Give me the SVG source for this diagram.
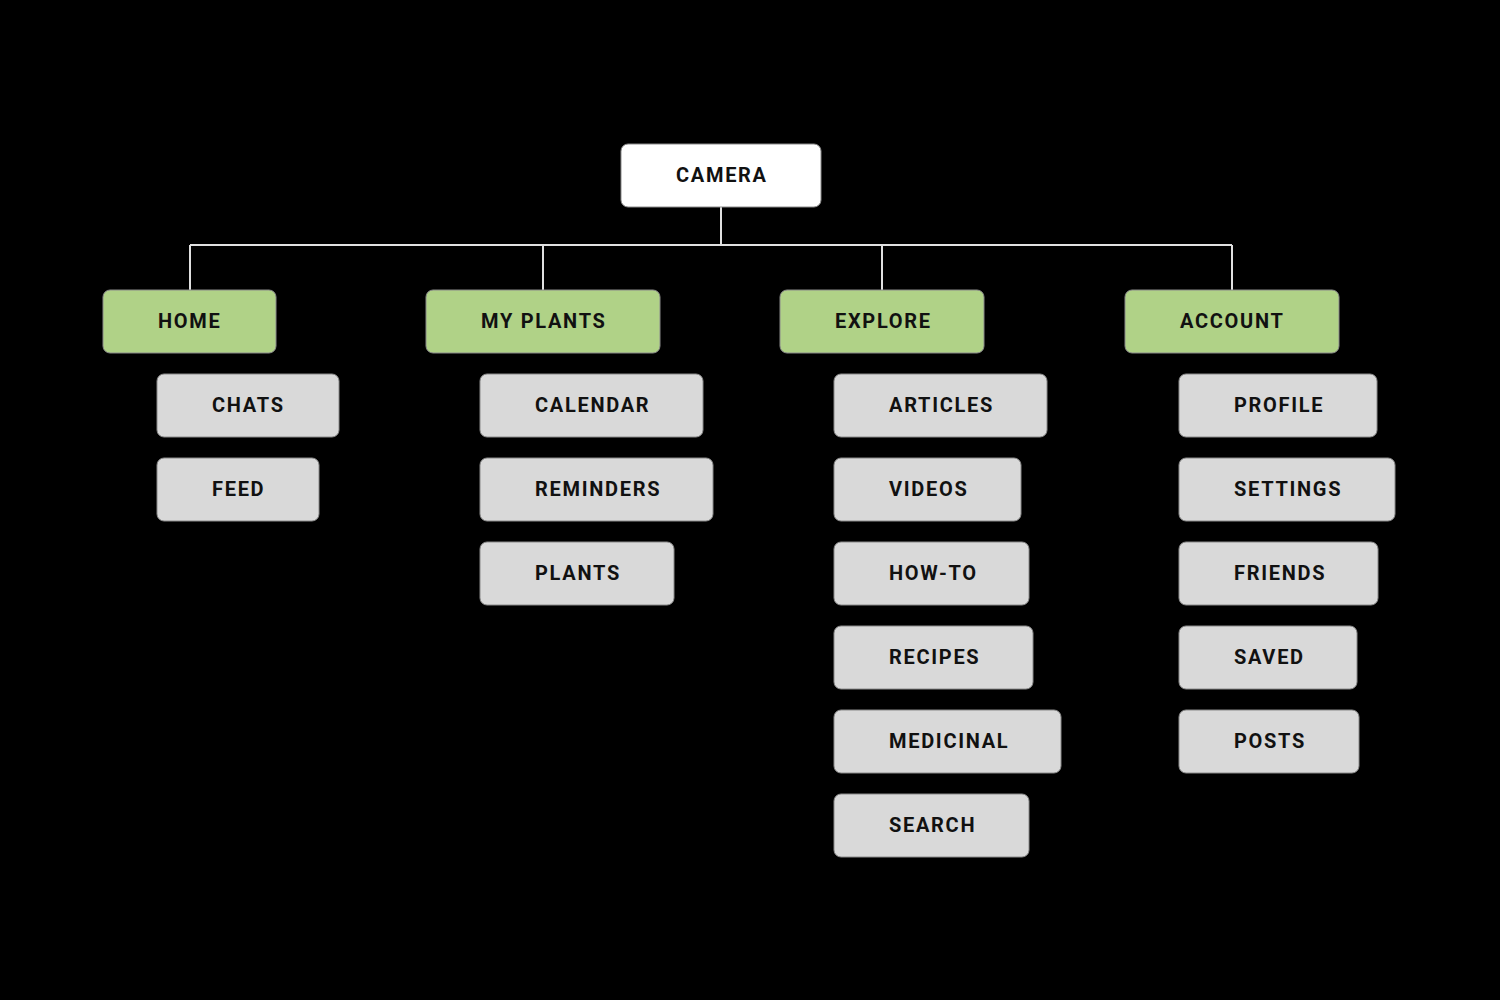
<svg xmlns="http://www.w3.org/2000/svg" width="1500" height="1000" viewBox="0 0 1500 1000">
<style>
.bg{fill:#000}
rect.n{stroke:#8a8a8a;stroke-width:1}
.root{fill:#fff}
.sec{fill:#b0d287}
.sub{fill:#d9d9d9}
text{font-family:Roboto,"Liberation Sans",sans-serif;font-weight:700;font-size:20px;letter-spacing:1.7px;fill:#111;dominant-baseline:central}
.c{stroke:#e0e0e0;stroke-width:2;fill:none}
</style>
<rect class="bg" x="0" y="0" width="1500" height="1000"/>
<g id="connectors">
<path class="c" d="M721 207V245M190 245H1232M190 245V290M543 245V290M882 245V290M1232 245V290"/>
</g>
<g id="camera"><rect class="n root" x="621" y="144" width="200" height="63" rx="7"/><text x="676" y="175">CAMERA</text></g>
<g id="home"><rect class="n sec" x="103" y="290" width="173" height="63" rx="7"/><text x="158" y="321">HOME</text></g>
<g id="myplants"><rect class="n sec" x="426" y="290" width="234" height="63" rx="7"/><text x="481" y="321">MY PLANTS</text></g>
<g id="explore"><rect class="n sec" x="780" y="290" width="204" height="63" rx="7"/><text x="835" y="321">EXPLORE</text></g>
<g id="account"><rect class="n sec" x="1125" y="290" width="214" height="63" rx="7"/><text x="1180" y="321">ACCOUNT</text></g>
<g id="chats"><rect class="n sub" x="157" y="374" width="182" height="63" rx="7"/><text x="212" y="405">CHATS</text></g>
<g id="feed"><rect class="n sub" x="157" y="458" width="162" height="63" rx="7"/><text x="212" y="489">FEED</text></g>
<g id="calendar"><rect class="n sub" x="480" y="374" width="223" height="63" rx="7"/><text x="535" y="405">CALENDAR</text></g>
<g id="reminders"><rect class="n sub" x="480" y="458" width="233" height="63" rx="7"/><text x="535" y="489">REMINDERS</text></g>
<g id="plants"><rect class="n sub" x="480" y="542" width="194" height="63" rx="7"/><text x="535" y="573">PLANTS</text></g>
<g id="articles"><rect class="n sub" x="834" y="374" width="213" height="63" rx="7"/><text x="889" y="405">ARTICLES</text></g>
<g id="videos"><rect class="n sub" x="834" y="458" width="187" height="63" rx="7"/><text x="889" y="489">VIDEOS</text></g>
<g id="howto"><rect class="n sub" x="834" y="542" width="195" height="63" rx="7"/><text x="889" y="573">HOW-TO</text></g>
<g id="recipes"><rect class="n sub" x="834" y="626" width="199" height="63" rx="7"/><text x="889" y="657">RECIPES</text></g>
<g id="medicinal"><rect class="n sub" x="834" y="710" width="227" height="63" rx="7"/><text x="889" y="741">MEDICINAL</text></g>
<g id="search"><rect class="n sub" x="834" y="794" width="195" height="63" rx="7"/><text x="889" y="825">SEARCH</text></g>
<g id="profile"><rect class="n sub" x="1179" y="374" width="198" height="63" rx="7"/><text x="1234" y="405">PROFILE</text></g>
<g id="settings"><rect class="n sub" x="1179" y="458" width="216" height="63" rx="7"/><text x="1234" y="489">SETTINGS</text></g>
<g id="friends"><rect class="n sub" x="1179" y="542" width="199" height="63" rx="7"/><text x="1234" y="573">FRIENDS</text></g>
<g id="saved"><rect class="n sub" x="1179" y="626" width="178" height="63" rx="7"/><text x="1234" y="657">SAVED</text></g>
<g id="posts"><rect class="n sub" x="1179" y="710" width="180" height="63" rx="7"/><text x="1234" y="741">POSTS</text></g>
</svg>
